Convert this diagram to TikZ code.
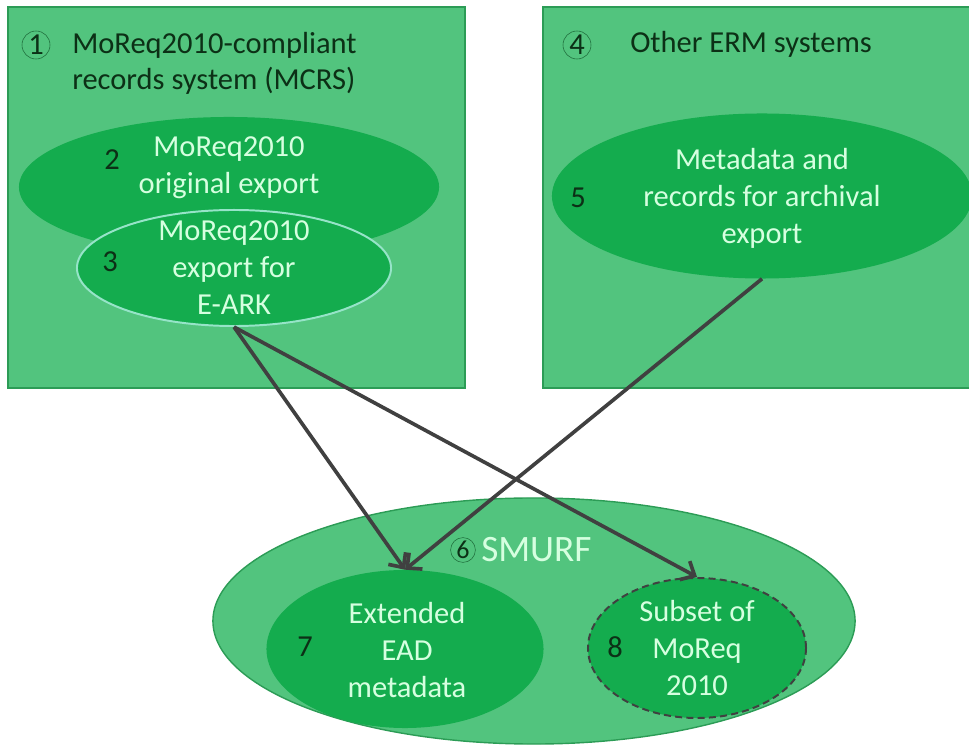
\documentclass[tikz,border=0pt]{standalone}
\usepackage{fontspec}
\setmainfont{Carlito}
\usetikzlibrary{shapes.geometric, arrows.meta, positioning}
\definecolor{boxgreen}{RGB}{82,196,126}
\definecolor{boxedge}{RGB}{44,156,86}
\definecolor{ovalgreen}{RGB}{20,172,78}
\definecolor{ovaltext}{RGB}{214,255,224}
\definecolor{numdark}{RGB}{12,48,22}
\definecolor{ringedge}{RGB}{150,228,200}
\definecolor{arrowgrey}{RGB}{64,64,64}

\tikzset{
  sysbox/.style={rectangle,draw=boxedge,fill=boxgreen,line width=1.2pt,inner sep=0pt},
  oval/.style={ellipse,fill=ovalgreen,inner sep=0pt},
  ovaltxt/.style={text=ovaltext,align=center,inner sep=0pt,font=\fontsize{21.7}{26.3}\selectfont},
  titletxt/.style={text=numdark,align=left,inner sep=0pt,font=\fontsize{21.7}{26.3}\selectfont},
  numtxt/.style={text=numdark,inner sep=0pt,font=\fontsize{21.7}{26.3}\selectfont},
  numring/.style={circle,draw=boxedge!70!black,line width=0.4pt,inner sep=0pt,text=numdark},
  flow/.style={-{Straight Barb[length=8pt,width=15pt]},line width=2.6pt,arrowgrey}
}

\begin{document}
\begin{tikzpicture}[x=0.025cm,y=-0.025cm]
    \useasboundingbox (0,0) rectangle (969,747);

    % Systeme
    \node[sysbox,minimum width=11.425cm,minimum height=9.525cm] (mcrs) at (236.5,197.5) {};
    \node[sysbox,minimum width=10.7cm,minimum height=9.525cm] (erm) at (757,197.5) {};

    % Exporte
    \node[oval,minimum width=10.5cm,minimum height=3.5cm] (orig) at (229,187) {};
    \node[oval,draw=ringedge,line width=1.4pt,minimum width=7.85cm,minimum height=2.9cm] (eark) at (234,268) {};
    \node[oval,minimum width=10.5cm,minimum height=4.125cm] (archiv) at (762,196) {};

    % SMURF
    \node[ellipse,fill=boxgreen,draw=boxedge,line width=1pt,inner sep=0pt,minimum width=16.05cm,minimum height=6.15cm] (smurf) at (534,621) {};
    \node[oval,minimum width=6.925cm,minimum height=3.95cm] (ead) at (405,649) {};
    \node[oval,draw=arrowgrey,dashed,dash pattern=on 5pt off 3pt,line width=1.4pt,minimum width=5.45cm,minimum height=3.5cm] (subset) at (697,648) {};

    % Verbindungen
    \draw[flow] (eark.south) -- (ead.north);
    \draw[flow] (eark.south) -- (subset.north);
    \draw[flow] (archiv.south) -- (ead.north);

    % Titel
    \node[titletxt,anchor=base west] (t1) at (72,90) {MoReq2010-compliant\\records system (MCRS)};
    \node[titletxt,anchor=base west] (t4) at (630,53) {Other ERM systems};

    % Texte
    \node[ovaltxt] (l2) at (229,168) {MoReq2010\\original export};
    \node[ovaltxt] (l3) at (234,268) {MoReq2010\\export for\\E-ARK};
    \node[ovaltxt] (l5) at (762,198) {Metadata and\\records for archival\\export};
    \node[ovaltxt,font=\fontsize{26.5}{30}\selectfont,anchor=west] (l6) at (481,550) {SMURF};
    \node[ovaltxt] (l7) at (407,650) {Extended\\EAD\\metadata};
    \node[ovaltxt] (l8) at (697,648) {Subset of\\MoReq\\2010};

    % Nummern
    \node[numring,minimum size=0.7cm,font=\fontsize{21.7}{24}\selectfont] (n1) at (36,45) {1};
    \node[numring,minimum size=0.7cm,font=\fontsize{21.7}{24}\selectfont] (n4) at (577,45) {4};
    \node[numring,minimum size=0.62cm,font=\fontsize{18.5}{20}\selectfont] (n6) at (463,550) {6};
    \node[numtxt] (n2) at (112,160) {2};
    \node[numtxt] (n3) at (110,262) {3};
    \node[numtxt] (n5) at (578,198) {5};
    \node[numtxt] (n7) at (305,647) {7};
    \node[numtxt] (n8) at (615,647) {8};
\end{tikzpicture}
\end{document}
